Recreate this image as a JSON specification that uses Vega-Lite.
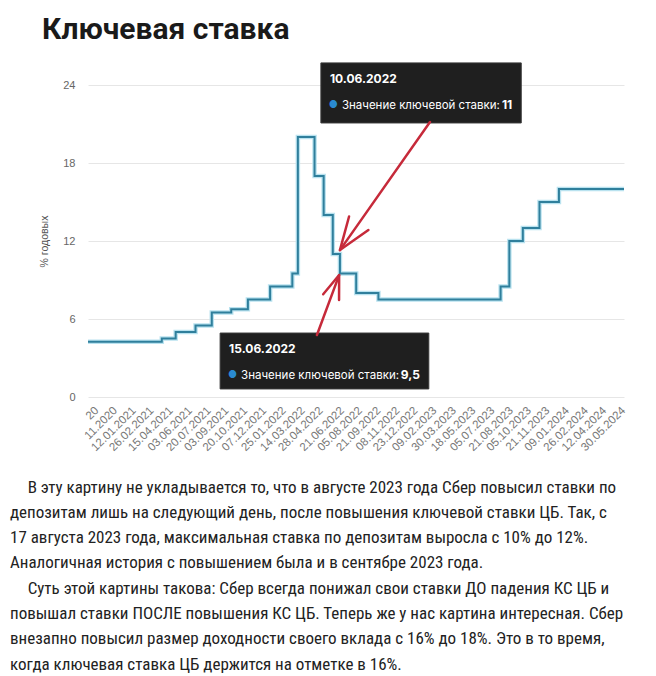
{
  "$schema": "https://vega.github.io/schema/vega-lite/v6.json",
  "background": "white",
  "padding": {"left": 10, "top": 15, "right": 0, "bottom": 0},
  "title": {
    "text": "Ключевая ставка",
    "anchor": "start",
    "font": "Roboto",
    "fontSize": 30,
    "fontWeight": "bold",
    "color": "#1a1a1a",
    "dx": 32,
    "offset": 17
  },
  "datasets": {
    "rate": [
      {"date": "2020-09-17", "value": 4.25},
      {"date": "2021-03-22", "value": 4.5},
      {"date": "2021-04-26", "value": 5.0},
      {"date": "2021-06-15", "value": 5.5},
      {"date": "2021-07-26", "value": 6.5},
      {"date": "2021-09-13", "value": 6.75},
      {"date": "2021-10-25", "value": 7.5},
      {"date": "2021-12-20", "value": 8.5},
      {"date": "2022-02-14", "value": 9.5},
      {"date": "2022-02-28", "value": 20},
      {"date": "2022-04-11", "value": 17},
      {"date": "2022-05-04", "value": 14},
      {"date": "2022-05-27", "value": 11},
      {"date": "2022-06-14", "value": 9.5},
      {"date": "2022-07-25", "value": 8},
      {"date": "2022-09-19", "value": 7.5},
      {"date": "2023-07-24", "value": 8.5},
      {"date": "2023-08-15", "value": 12},
      {"date": "2023-09-18", "value": 13},
      {"date": "2023-10-30", "value": 15},
      {"date": "2023-12-18", "value": 16},
      {"date": "2024-05-30", "value": 16}
    ],
    "xticks": [
      {"date": "2020-10-10", "label": "20"},
      {"date": "2020-11-26", "label": "11.2020"},
      {"date": "2021-01-12", "label": "12.01.2021"},
      {"date": "2021-02-26", "label": "26.02.2021"},
      {"date": "2021-04-15", "label": "15.04.2021"},
      {"date": "2021-06-03", "label": "03.06.2021"},
      {"date": "2021-07-20", "label": "20.07.2021"},
      {"date": "2021-09-03", "label": "03.09.2021"},
      {"date": "2021-10-20", "label": "20.10.2021"},
      {"date": "2021-12-07", "label": "07.12.2021"},
      {"date": "2022-01-25", "label": "25.01.2022"},
      {"date": "2022-03-14", "label": "14.03.2022"},
      {"date": "2022-04-28", "label": "28.04.2022"},
      {"date": "2022-06-21", "label": "21.06.2022"},
      {"date": "2022-08-05", "label": "05.08.2022"},
      {"date": "2022-09-21", "label": "21.09.2022"},
      {"date": "2022-11-08", "label": "08.11.2022"},
      {"date": "2022-12-23", "label": "23.12.2022"},
      {"date": "2023-02-09", "label": "09.02.2023"},
      {"date": "2023-03-30", "label": "30.03.2023"},
      {"date": "2023-05-18", "label": "18.05.2023"},
      {"date": "2023-07-05", "label": "05.07.2023"},
      {"date": "2023-08-21", "label": "21.08.2023"},
      {"date": "2023-10-05", "label": "05.10.2023"},
      {"date": "2023-11-21", "label": "21.11.2023"},
      {"date": "2024-01-09", "label": "09.01.2024"},
      {"date": "2024-02-26", "label": "26.02.2024"},
      {"date": "2024-04-12", "label": "12.04.2024"},
      {"date": "2024-05-30", "label": "30.05.2024"}
    ],
    "boxes": [
      {"date": "2022-04-27", "date2": "2023-09-14", "value": 25.7, "value2": 21.08, "day": "10.06.2022", "rate": "11"},
      {"date": "2021-08-16", "date2": "2023-01-24", "value": 4.92, "value2": 0.62, "day": "15.06.2022", "rate": "9,5"}
    ],
    "arrows": [
      {"id": "a1", "date": "2023-01-27", "value": 21.15, "date2": "2022-06-14", "value2": 11.3},
      {"id": "a2", "date": "2022-04-17", "value": 4.77, "date2": "2022-06-12", "value2": 9.38}
    ]
  },
  "vconcat": [
    {
      "width": 536,
      "height": 312,
      "title": {
        "text": [
          "\u200b\u2003\u2006В эту картину не укладывается то, что в августе 2023 года Сбер повысил ставки по",
          "депозитам лишь на следующий день, после повышения ключевой ставки ЦБ. Так, с",
          "17 августа 2023 года, максимальная ставка по депозитам выросла с 10% до 12%.",
          "Аналогичная история с повышением была и в сентябре 2023 года.",
          "\u200b\u2003\u2006Суть этой картины такова: Сбер всегда понижал свои ставки ДО падения КС ЦБ и",
          "повышал ставки ПОСЛЕ повышения КС ЦБ. Теперь же у нас картина интересная. Сбер",
          "внезапно повысил размер доходности своего вклада с 16% до 18%. Это в то время,",
          "когда ключевая ставка ЦБ держится на отметке в 16%."
        ],
        "orient": "bottom",
        "anchor": "start",
        "frame": "group",
        "dx": -78,
        "offset": 26,
        "font": "Roboto Condensed, Liberation Sans Narrow, DejaVu Sans Condensed, Roboto",
        "fontSize": 17,
        "fontWeight": "normal",
        "color": "#222222",
        "lineHeight": 25.3
      },
      "layer": [
        {
          "data": {"name": "rate"},
          "mark": {"type": "line", "interpolate": "step-after", "stroke": "#b9e2ef", "strokeWidth": 4.5},
          "encoding": {
            "x": {
              "field": "date",
              "type": "temporal",
              "scale": {
                "type": "utc",
                "domain": [
                  {"year": 2020, "month": 9, "date": 17, "utc": true},
                  {"year": 2024, "month": 5, "date": 30, "utc": true}
                ]
              },
              "axis": {
                "title": null,
                "labels": false,
                "ticks": false,
                "domain": false,
                "grid": false
              }
            },
            "y": {
              "field": "value",
              "type": "quantitative",
              "scale": {"domain": [0, 24], "nice": false},
              "axis": {
                "title": "% годовых",
                "titleFont": "Liberation Sans",
                "titleFontSize": 10.5,
                "titleFontWeight": "normal",
                "titleColor": "#555555",
                "titlePadding": 13,
                "values": [0, 6, 12, 18, 24],
                "labelFont": "Liberation Sans",
                "labelFontSize": 11,
                "labelColor": "#666666",
                "labelPadding": 13,
                "ticks": false,
                "domain": false,
                "grid": true,
                "gridColor": "#e6e6e6",
                "gridWidth": 1
              }
            }
          }
        },
        {
          "data": {"name": "rate"},
          "mark": {"type": "line", "interpolate": "step-after", "stroke": "#2f7f9c", "strokeWidth": 2},
          "encoding": {
            "x": {"field": "date", "type": "temporal"},
            "y": {"field": "value", "type": "quantitative"}
          }
        },
        {
          "data": {"name": "xticks"},
          "mark": {"type": "text", "angle": -45, "align": "right", "baseline": "middle", "radius": 12, "theta": 3.14159, "font": "Liberation Sans", "fontSize": 11.5, "color": "#777777"},
          "encoding": {
            "x": {"field": "date", "type": "temporal"},
            "y": {"datum": 0, "type": "quantitative"},
            "text": {"field": "label"}
          }
        },
        {
          "data": {"name": "boxes"},
          "mark": {"type": "rect", "fill": "#1f1f1f", "stroke": "#3a3a3a", "strokeWidth": 1},
          "encoding": {
            "x": {"field": "date", "type": "temporal"},
            "x2": {"field": "date2"},
            "y": {"field": "value", "type": "quantitative"},
            "y2": {"field": "value2"}
          }
        },
        {
          "data": {"name": "boxes"},
          "mark": {"type": "text", "align": "left", "baseline": "alphabetic", "dx": 9, "dy": 20, "font": "Inter", "fontSize": 12, "fontWeight": "bold", "color": "#ffffff"},
          "encoding": {
            "x": {"field": "date", "type": "temporal"},
            "y": {"field": "value", "type": "quantitative"},
            "text": {"field": "day"}
          }
        },
        {
          "data": {"name": "boxes"},
          "mark": {"type": "text", "align": "center", "baseline": "middle", "dx": 12.5, "dy": 42, "font": "Inter", "fontSize": 10, "text": "●", "color": "#2a8ad0"},
          "encoding": {
            "x": {"field": "date", "type": "temporal"},
            "y": {"field": "value", "type": "quantitative"}
          }
        },
        {
          "data": {"name": "boxes"},
          "mark": {"type": "text", "align": "left", "baseline": "alphabetic", "dx": 21, "dy": 46, "font": "Inter", "fontSize": 11.5, "fontWeight": "normal", "color": "#ffffff", "text": "Значение ключевой ставки:"},
          "encoding": {
            "x": {"field": "date", "type": "temporal"},
            "y": {"field": "value", "type": "quantitative"}
          }
        },
        {
          "data": {"name": "boxes"},
          "mark": {"type": "text", "align": "right", "baseline": "alphabetic", "dx": -9, "dy": 46, "font": "Inter", "fontSize": 12, "fontWeight": "bold", "color": "#ffffff"},
          "encoding": {
            "x": {"field": "date2", "type": "temporal"},
            "y": {"field": "value", "type": "quantitative"},
            "text": {"field": "rate"}
          }
        },
        {
          "data": {"name": "arrows"},
          "mark": {"type": "rule", "color": "#c62a3a", "strokeWidth": 2.5, "strokeCap": "round"},
          "encoding": {
            "x": {"field": "date", "type": "temporal"},
            "x2": {"field": "date2"},
            "y": {"field": "value", "type": "quantitative"},
            "y2": {"field": "value2"}
          }
        },
        {
          "data": {"name": "arrows"},
          "transform": [{"filter": "datum.id == 'a1'"}],
          "mark": {"type": "point", "shape": "M-0.36,1L0,0L0.36,1", "filled": false, "stroke": "#c62a3a", "strokeWidth": 2.5, "strokeCap": "round", "strokeJoin": "round", "opacity": 1, "size": 4300, "angle": 215},
          "encoding": {
            "x": {"field": "date2", "type": "temporal"},
            "y": {"field": "value2", "type": "quantitative"}
          }
        },
        {
          "data": {"name": "arrows"},
          "transform": [{"filter": "datum.id == 'a2'"}],
          "mark": {"type": "point", "shape": "M-0.36,1L0,0L0.36,1", "filled": false, "stroke": "#c62a3a", "strokeWidth": 2.5, "strokeCap": "round", "strokeJoin": "round", "opacity": 1, "size": 2200, "angle": 20},
          "encoding": {
            "x": {"field": "date2", "type": "temporal"},
            "y": {"field": "value2", "type": "quantitative"}
          }
        }
      ]
    }
  ],
  "config": {
    "view": {"stroke": null},
    "concat": {"spacing": 0}
  }
}
